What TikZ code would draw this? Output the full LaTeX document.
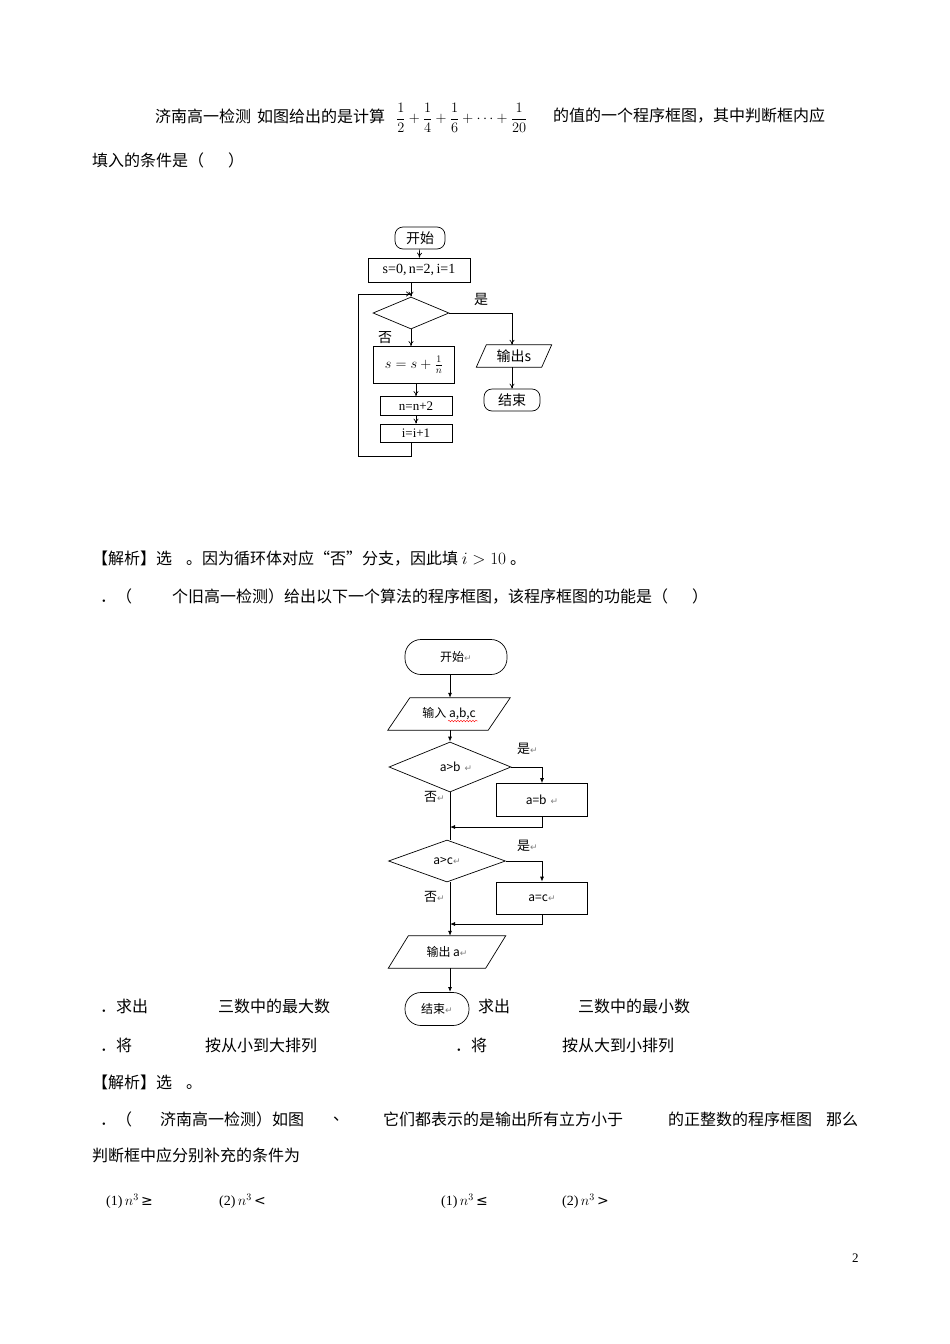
\documentclass[tikz,border=0pt]{standalone}
\usepackage{fontspec}
\setmainfont{Liberation Serif}
\newfontfamily\cjk{Noto Sans CJK SC}
\newfontfamily\djv{DejaVu Sans}
\usetikzlibrary{shapes.geometric,arrows.meta,decorations.pathmorphing}
\newcommand\rmk{{\djv\fontsize{9}{9}\selectfont\color{gray}↵}}
\begin{document}
\begin{tikzpicture}[x=1pt,y=-1pt,
  txt/.style={anchor=west,inner sep=0pt,font=\fontsize{16}{16}\selectfont\cjk},
  fc/.style={draw,line width=0.7pt,inner sep=0pt,font=\fontsize{14}{14}\selectfont\cjk},
  fd/.style={draw,line width=0.7pt,inner sep=0pt,font=\fontsize{12}{12}\selectfont\cjk},
  pl/.style={inner sep=0pt},
  ln/.style={line width=0.7pt},
  ar/.style={line width=0.7pt,-{To[length=5pt,width=5pt]}},
  ar2/.style={line width=0.8pt,-{Latex[length=5pt,width=4pt]}}]
\useasboundingbox (0,0) rectangle (950,1344);
% text lines
\node[txt] (t1) at (155,116) {济南高一检测\hspace{6pt}如图给出的是计算};
\node[anchor=west,inner sep=0pt] (fr) at (396,118) {\fontsize{14}{14}\selectfont$\displaystyle\frac{1}{2}+\frac{1}{4}+\frac{1}{6}+\cdots+\frac{1}{20}$};
\node[txt] (t1b) at (553,116) {的值的一个程序框图，其中判断框内应};
\node[txt] (t2) at (92,160) {填入的条件是（\hspace{24pt}）};
% flowchart 1
\node[fc,rounded corners=8pt,minimum width=50,minimum height=22] (s1) at (420,238) {开始};
\node[fc,rectangle,minimum width=102,minimum height=24,font=\fontsize{14}{14}\selectfont] (init) at (419,270) {s=0,\,n=2,\,i=1};
\node[draw,line width=0.7pt,diamond,aspect=2.4,minimum width=76,minimum height=32,inner sep=0pt] (d1) at (411,313) {};
\node[fc,minimum width=81,minimum height=37] (b1) at (414,365) {$s=s+\frac{1}{n}$};
\node[fc,minimum width=72,minimum height=19,font=\fontsize{13}{13}\selectfont] (b2) at (416,406) {n=n+2};
\node[fc,minimum width=72,minimum height=18,font=\fontsize{13}{13}\selectfont] (b3) at (416,433) {i=i+1};
\node[pl,minimum width=65,minimum height=22,font=\fontsize{14}{14}\selectfont\cjk] (o1) at (514,356) {输出s};
\draw[ln] ([xshift=5]o1.north west) -- ([xshift=5]o1.north east) -- ([xshift=-5]o1.south east) -- ([xshift=-5]o1.south west) -- cycle;
\node[fc,rounded corners=8pt,minimum width=56,minimum height=22] (e1) at (512,400) {结束};
\node[txt,font=\fontsize{14}{14}\selectfont\cjk] (y1) at (474,299) {是};
\node[txt,font=\fontsize{14}{14}\selectfont\cjk] (n1) at (378,338) {否};
\draw[ar] (s1) -- (init);
\draw[ar] (init.south -| d1.north) -- (d1.north);
\draw[ar] (d1.south) -- (b1.north -| d1.south);
\draw[ar] (b1.south -| b2.north) -- (b2.north);
\draw[ar] (b2) -- (b3);
\coordinate (l1) at (411,456);
\coordinate (l2) at (358,456);
\coordinate (l3) at (358,294);
\coordinate (l4) at (411,294);
\draw[ar] (b3.south -| l1) -- (l1) -- (l2) -- (l3) -- (l4);
\coordinate (r1) at (512,313);
\draw[ar] (d1.east) -- (r1) -- (o1.north -| r1);
\draw[ar] (o1.south -| e1.north) -- (e1.north);
% answer lines
\node[txt] (a1) at (92,559) {【解析】选\hspace{14pt}。因为循环体对应“否”分支，因此填 \rmfamily$i>10$ \cjk 。};
\node[txt] (q2) at (100,596) {．（\hspace{40pt}个旧高一检测）给出以下一个算法的程序框图，该程序框图的功能是（\hspace{24pt}）};
% flowchart 2
\node[fd,rounded corners=16pt,minimum width=102,minimum height=35] (s2) at (456,657) {开始\rmk};
\node[pl,minimum width=100,minimum height=32,font=\fontsize{12}{12}\selectfont\cjk] (in2) at (449,714) {输入 a,b,c};
\draw[ln] ([xshift=11]in2.north west) -- ([xshift=11]in2.north east) -- ([xshift=-11]in2.south east) -- ([xshift=-11]in2.south west) -- cycle;
\draw[red,line width=0.4pt,decorate,decoration={snake,amplitude=0.8pt,segment length=3pt}] (448,721) -- (478,721);
\node[draw,line width=0.7pt,diamond,aspect=2.4,minimum width=122,minimum height=50,inner sep=0pt,font=\fontsize{12}{12}\selectfont\cjk] (d2) at (450,767) {\hspace{12pt}a>b\hspace{4pt}\rmk};
\node[fd,minimum width=91,minimum height=33] (ab) at (542,800) {a=b\hspace{4pt}\rmk};
\node[draw,line width=0.7pt,diamond,aspect=2.6,minimum width=117,minimum height=42,inner sep=0pt,font=\fontsize{12}{12}\selectfont\cjk] (d3) at (447,861) {a>c\rmk};
\node[fd,minimum width=91,minimum height=32] (ac) at (542,898) {a=c\rmk};
\node[pl,minimum width=97,minimum height=32,font=\fontsize{12}{12}\selectfont\cjk] (o2) at (447,952) {输出 a\rmk};
\draw[ln] ([xshift=10]o2.north west) -- ([xshift=10]o2.north east) -- ([xshift=-10]o2.south east) -- ([xshift=-10]o2.south west) -- cycle;
\node[fd,rounded corners=16pt,minimum width=64,minimum height=33] (e2) at (437,1009) {结束\rmk};
\node[txt,font=\fontsize{13}{13}\selectfont\cjk] (y2) at (517,749) {是\rmk};
\node[txt,font=\fontsize{13}{13}\selectfont\cjk] (n2) at (424,797) {否\rmk};
\node[txt,font=\fontsize{13}{13}\selectfont\cjk] (y3) at (517,846) {是\rmk};
\node[txt,font=\fontsize{13}{13}\selectfont\cjk] (n3) at (424,897) {否\rmk};
\draw[ar2] (s2.south -| 450,0) -- (in2.north -| 450,0);
\draw[ar2] (in2.south -| 450,0) -- (d2.north);
\draw[ln] (d2.south) -- (d3.north -| d2.south);
\coordinate (m1) at (450,827);
\coordinate (m2) at (450,924);
\draw[ar2] (d2.east) -| (ab.north);
\draw[ar2] (ab.south) |- (m1);
\draw[ar2] (d3.east) -| (ab.north |- ac.north);
\draw[ar2] (ac.south) |- (m2);
\draw[ar2] (d3.south -| 450,0) -- (o2.north -| 450,0);
\draw[ar2] (o2.south -| 450,0) -- (450,992);
% options
\node[txt] (c1) at (100,1006) {．求出};
\node[txt] (c2) at (218,1006) {三数中的最大数};
\node[txt] (c3) at (478,1006) {求出};
\node[txt] (c4) at (578,1006) {三数中的最小数};
\node[txt] (c5) at (100,1045) {．将};
\node[txt] (c6) at (205,1045) {按从小到大排列};
\node[txt] (c7) at (455,1045) {．将};
\node[txt] (c8) at (562,1045) {按从大到小排列};
\node[txt] (a2) at (92,1082) {【解析】选\hspace{14pt}。};
\node[txt] (q3a) at (100,1119) {．（};
\node[txt] (q3b) at (160,1119) {济南高一检测）如图};
\node[txt] (q3c) at (333,1119) {、};
\node[txt] (q3d) at (383,1119) {它们都表示的是输出所有立方小于};
\node[txt] (q3e) at (668,1119) {的正整数的程序框图};
\node[txt] (q3f) at (826,1119) {那么};
\node[txt] (q3g) at (92,1155) {判断框中应分别补充的条件为};
\node[txt,font=\fontsize{14}{14}\selectfont] (o1a) at (106,1201) {(1)\,$n^3$\,\djv≥};
\node[txt,font=\fontsize{14}{14}\selectfont] (o1b) at (219,1201) {(2)\,$n^3$\,\djv<};
\node[txt,font=\fontsize{14}{14}\selectfont] (o1c) at (441,1201) {(1)\,$n^3$\,\djv≤};
\node[txt,font=\fontsize{14}{14}\selectfont] (o1d) at (562,1201) {(2)\,$n^3$\,\djv>};
\node[txt,font=\fontsize{13}{13}\selectfont] (pg) at (852,1258) {2};
\end{tikzpicture}
\end{document}
